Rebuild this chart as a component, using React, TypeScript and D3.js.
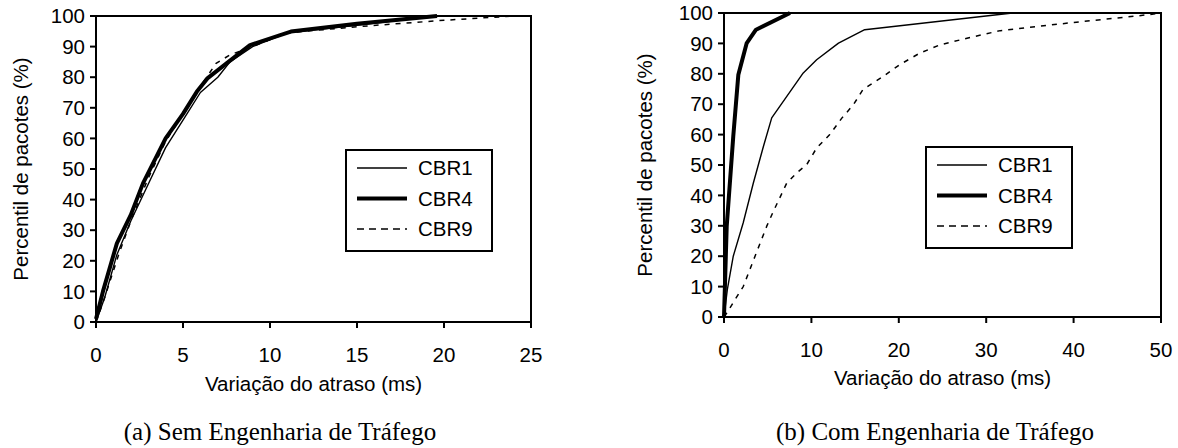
import React from "react";
import * as d3 from "d3";

// (a) sem engenharia de trafego
const cbr1AX = [0, 0.5, 1.2, 2, 3, 4, 5, 6, 7, 7.7, 9, 11, 15, 19.5];
const cbr1AY = [0, 8, 22, 33, 45, 57, 66, 75, 80, 85, 90, 94.5, 97, 100];
const cbr4AX = [0, 0.4, 1.2, 2, 2.7, 4, 5, 5.8, 6.4, 7.5, 8.85, 11.2, 15, 19.6];
const cbr4AY = [1, 10, 25.7, 35, 45.3, 60, 68, 75.3, 79.6, 84.5, 90.5, 94.9, 97.5, 100];
const cbr9AX = [0, 0.5, 1.3, 2, 3, 4, 5, 6, 6.9, 7.7, 9, 11, 15, 20, 24];
const cbr9AY = [0, 8, 22, 33, 47, 59, 68, 77, 84.5, 87.3, 90, 94.5, 96.5, 98.6, 100];

// (b) com engenharia de trafego
const cbr1BX = [0, 0.38, 1.06, 2.2, 3.35, 4.5, 5.46, 9.07, 10.6, 13.1, 16.1, 33];
const cbr1BY = [0, 9, 20, 31, 44, 56, 65.5, 80.3, 84.6, 90.1, 94.5, 100];
const cbr4BX = [0, 0.31, 1.06, 1.64, 2.6, 3.66, 7.55];
const cbr4BY = [0, 29.8, 59.4, 79.7, 90.1, 94.5, 100];
const cbr9BX = [0, 0.31, 1.26, 2.2, 3.55, 4.88, 5.64, 7.17, 8.31, 9.46, 10.6, 12.1, 13.5, 14.8, 15.9, 18.2, 20.1, 22.4, 24.7, 27.8, 31.6, 36.2, 40.7, 44.5, 48.4, 50];
const cbr9BY = [0, 1.3, 5.7, 10, 20, 29.8, 34.7, 44, 47.4, 50.1, 55.6, 60, 65.5, 69.8, 74.8, 79.1, 83, 86.8, 89.5, 91.7, 94.2, 95.7, 97.1, 98.2, 99.4, 100];

const yTicks = [0, 10, 20, 30, 40, 50, 60, 70, 80, 90, 100];
const xTicksA = [0, 5, 10, 15, 20, 25];
const xTicksB = [0, 10, 20, 30, 40, 50];
const seriesNames = ["CBR1", "CBR4", "CBR9"];

const sans = "'Liberation Sans', Arial, sans-serif";
const serif = "'Liberation Serif', 'Times New Roman', serif";

const styles = [
  { w: 1.4, dash: "none", legendDash: "none" },
  { w: 4, dash: "none", legendDash: "none" },
  { w: 1.5, dash: "5,6", legendDash: "7,5" },
];

const zip = (xs: number[], ys: number[]) => xs.map((x, i) => [x, ys[i]] as [number, number]);

const Panel = (props: any) => {
  const { x0, x1, y0, y1, xMax, xTicks, series, legend, yTitleX, xTitleY, caption, captionX, captionY } = props;
  const x = d3.scaleLinear().domain([0, xMax]).range([x0, x1]);
  const y = d3.scaleLinear().domain([0, 100]).range([y1, y0]);
  const line = d3.line<[number, number]>().x(d => x(d[0])).y(d => y(d[1]));
  const cx = (x0 + x1) / 2;

  return (
    <g>
      {series.map((s: [number, number][], i: number) => (
        <path key={i} d={line(s) || ""} fill="none" stroke="#000"
          strokeWidth={styles[i].w} strokeDasharray={styles[i].dash}
          strokeLinejoin="round" />
      ))}
      {/* frame */}
      <rect x={x0} y={y0} width={x1 - x0} height={y1 - y0} fill="none" stroke="#000" strokeWidth={2} />
      {yTicks.map(t => (
        <g key={t}>
          <line x1={x0 - 6} x2={x0} y1={y(t)} y2={y(t)} stroke="#000" strokeWidth={2} />
          <text x={x0 - 11} y={y(t)} dy="0.35em" textAnchor="end" fontFamily={sans} fontSize={20.5}>{t}</text>
        </g>
      ))}
      {xTicks.map((t: number) => (
        <g key={t}>
          <line x1={x(t)} x2={x(t)} y1={y1} y2={y1 + 6} stroke="#000" strokeWidth={2} />
          <text x={x(t)} y={y1 + 40} textAnchor="middle" fontFamily={sans} fontSize={20.5}>{t}</text>
        </g>
      ))}
      <text transform={`translate(${yTitleX},${(y0 + y1) / 2}) rotate(-90)`} textAnchor="middle"
        fontFamily={sans} fontSize={20.5}>Percentil de pacotes (%)</text>
      <text x={cx} y={xTitleY} textAnchor="middle" fontFamily={sans} fontSize={20.5}>Variação do atraso (ms)</text>
      <text x={captionX} y={captionY} textAnchor="middle" fontFamily={serif} fontSize={25}>{caption}</text>

      {/* legend */}
      <rect x={legend.x} y={legend.y} width={146} height={101} fill="#fff" stroke="#000" strokeWidth={2} />
      {seriesNames.map((n, i) => {
        const ly = legend.y + 18 + i * 30.5;
        return (
          <g key={n}>
            <line x1={legend.x + 11} x2={legend.x + 61} y1={ly} y2={ly} stroke="#000"
              strokeWidth={styles[i].w} strokeDasharray={styles[i].legendDash} />
            <text x={legend.x + 72} y={ly} dy="0.35em" fontFamily={sans} fontSize={20.5}>{n}</text>
          </g>
        );
      })}
    </g>
  );
};

const App = () => {
  return (
    <svg width={1178} height={448} style={{ position: "absolute", left: 0, top: 0, background: "#fff" }}>
      <Panel x0={96} x1={531} y0={16} y1={322} xMax={25} xTicks={xTicksA}
        series={[zip(cbr1AX, cbr1AY), zip(cbr4AX, cbr4AY), zip(cbr9AX, cbr9AY)]}
        legend={{ x: 346, y: 150 }} yTitleX={28} xTitleY={391}
        caption="(a) Sem Engenharia de Tráfego" captionX={280} captionY={440} />
      <Panel x0={724} x1={1161} y0={13} y1={317} xMax={50} xTicks={xTicksB}
        series={[zip(cbr1BX, cbr1BY), zip(cbr4BX, cbr4BY), zip(cbr9BX, cbr9BY)]}
        legend={{ x: 926, y: 147 }} yTitleX={652} xTitleY={385}
        caption="(b) Com Engenharia de Tráfego" captionX={935} captionY={440} />
    </svg>
  );
};

export default App;
